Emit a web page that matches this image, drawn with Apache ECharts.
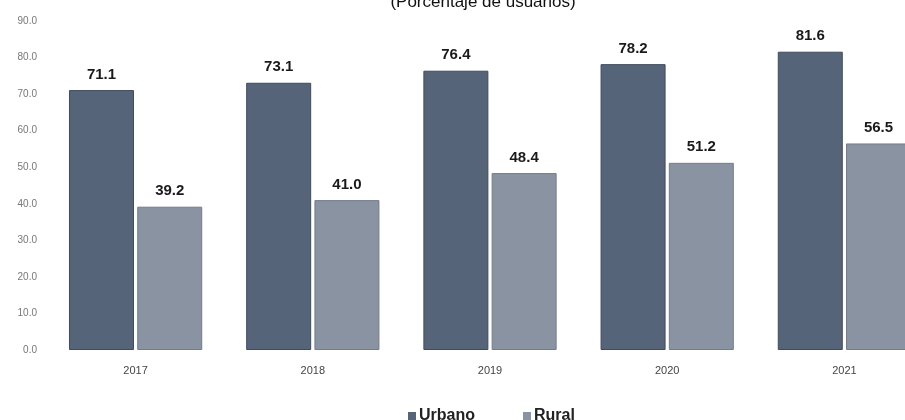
<!DOCTYPE html>
<html>
<head>
<meta charset="utf-8">
<script src="https://cdn.jsdelivr.net/npm/echarts@6/dist/echarts.min.js"></script>
<style>
html,body{margin:0;padding:0;background:#fff;}
#chart{width:905px;height:420px;}
</style>
</head>
<body>
<div id="chart"></div>
<script>
const years = ['2017', '2018', '2019', '2020', '2021'];
const urbano = [71.1, 73.1, 76.4, 78.2, 81.6];
const rural = [39.2, 41.0, 48.4, 51.2, 56.5];
const seriesNames = ['Urbano', 'Rural'];
const titleText = '(Porcentaje de usuarios)';

const chart = echarts.init(document.getElementById('chart'));
const labelStyle = {
  show: true,
  position: 'top',
  distance: 8,
  fontFamily: 'Arial, Liberation Sans, sans-serif',
  fontWeight: 'bold',
  fontSize: 15,
  color: '#1a1a1a',
  formatter: p => p.value.toFixed(1)
};
chart.setOption({
  animation: false,
  backgroundColor: '#ffffff',
  title: {
    text: titleText,
    left: 478,
    textAlign: 'center',
    top: -11,
    textStyle: {
      fontFamily: 'Arial, Liberation Sans, sans-serif',
      fontSize: 17,
      fontWeight: 'normal',
      color: '#111'
    }
  },
  legend: {
    data: seriesNames,
    left: 403,
    top: 403,
    itemWidth: 8,
    itemHeight: 8,
    itemGap: 48,
    icon: 'rect',
    itemStyle: { borderWidth: 0 },
    textStyle: {
      fontFamily: 'Arial, Liberation Sans, sans-serif',
      fontSize: 16,
      fontWeight: 'bold',
      color: '#222',
      padding: [0, 0, 0, -2]
    }
  },
  grid: { left: 47, top: 21, width: 886, bottom: 70, outerBoundsMode: 'none', containLabel: false },
  xAxis: {
    type: 'category',
    data: years,
    axisLine: { show: false },
    axisTick: { show: false },
    axisLabel: {
      margin: 15,
      fontFamily: 'Arial, Liberation Sans, sans-serif',
      fontSize: 11,
      color: '#444'
    }
  },
  yAxis: {
    type: 'value',
    min: 0,
    max: 90,
    interval: 10,
    splitLine: { show: false },
    axisLine: { show: false },
    axisTick: { show: false },
    axisLabel: {
      margin: 10,
      fontFamily: 'Arial, Liberation Sans, sans-serif',
      fontSize: 10,
      color: '#777',
      formatter: v => v.toFixed(1)
    }
  },
  series: [
    {
      name: seriesNames[0],
      type: 'bar',
      data: urbano,
      barWidth: 65,
      barGap: '5%',
      itemStyle: { color: '#56647a', borderColor: '#3f4a5c', borderWidth: 1 },
      label: labelStyle
    },
    {
      name: seriesNames[1],
      type: 'bar',
      data: rural,
      barWidth: 65,
      itemStyle: { color: '#8a93a2', borderColor: '#737c8c', borderWidth: 1 },
      label: labelStyle
    }
  ]
});
</script>
</body>
</html>
